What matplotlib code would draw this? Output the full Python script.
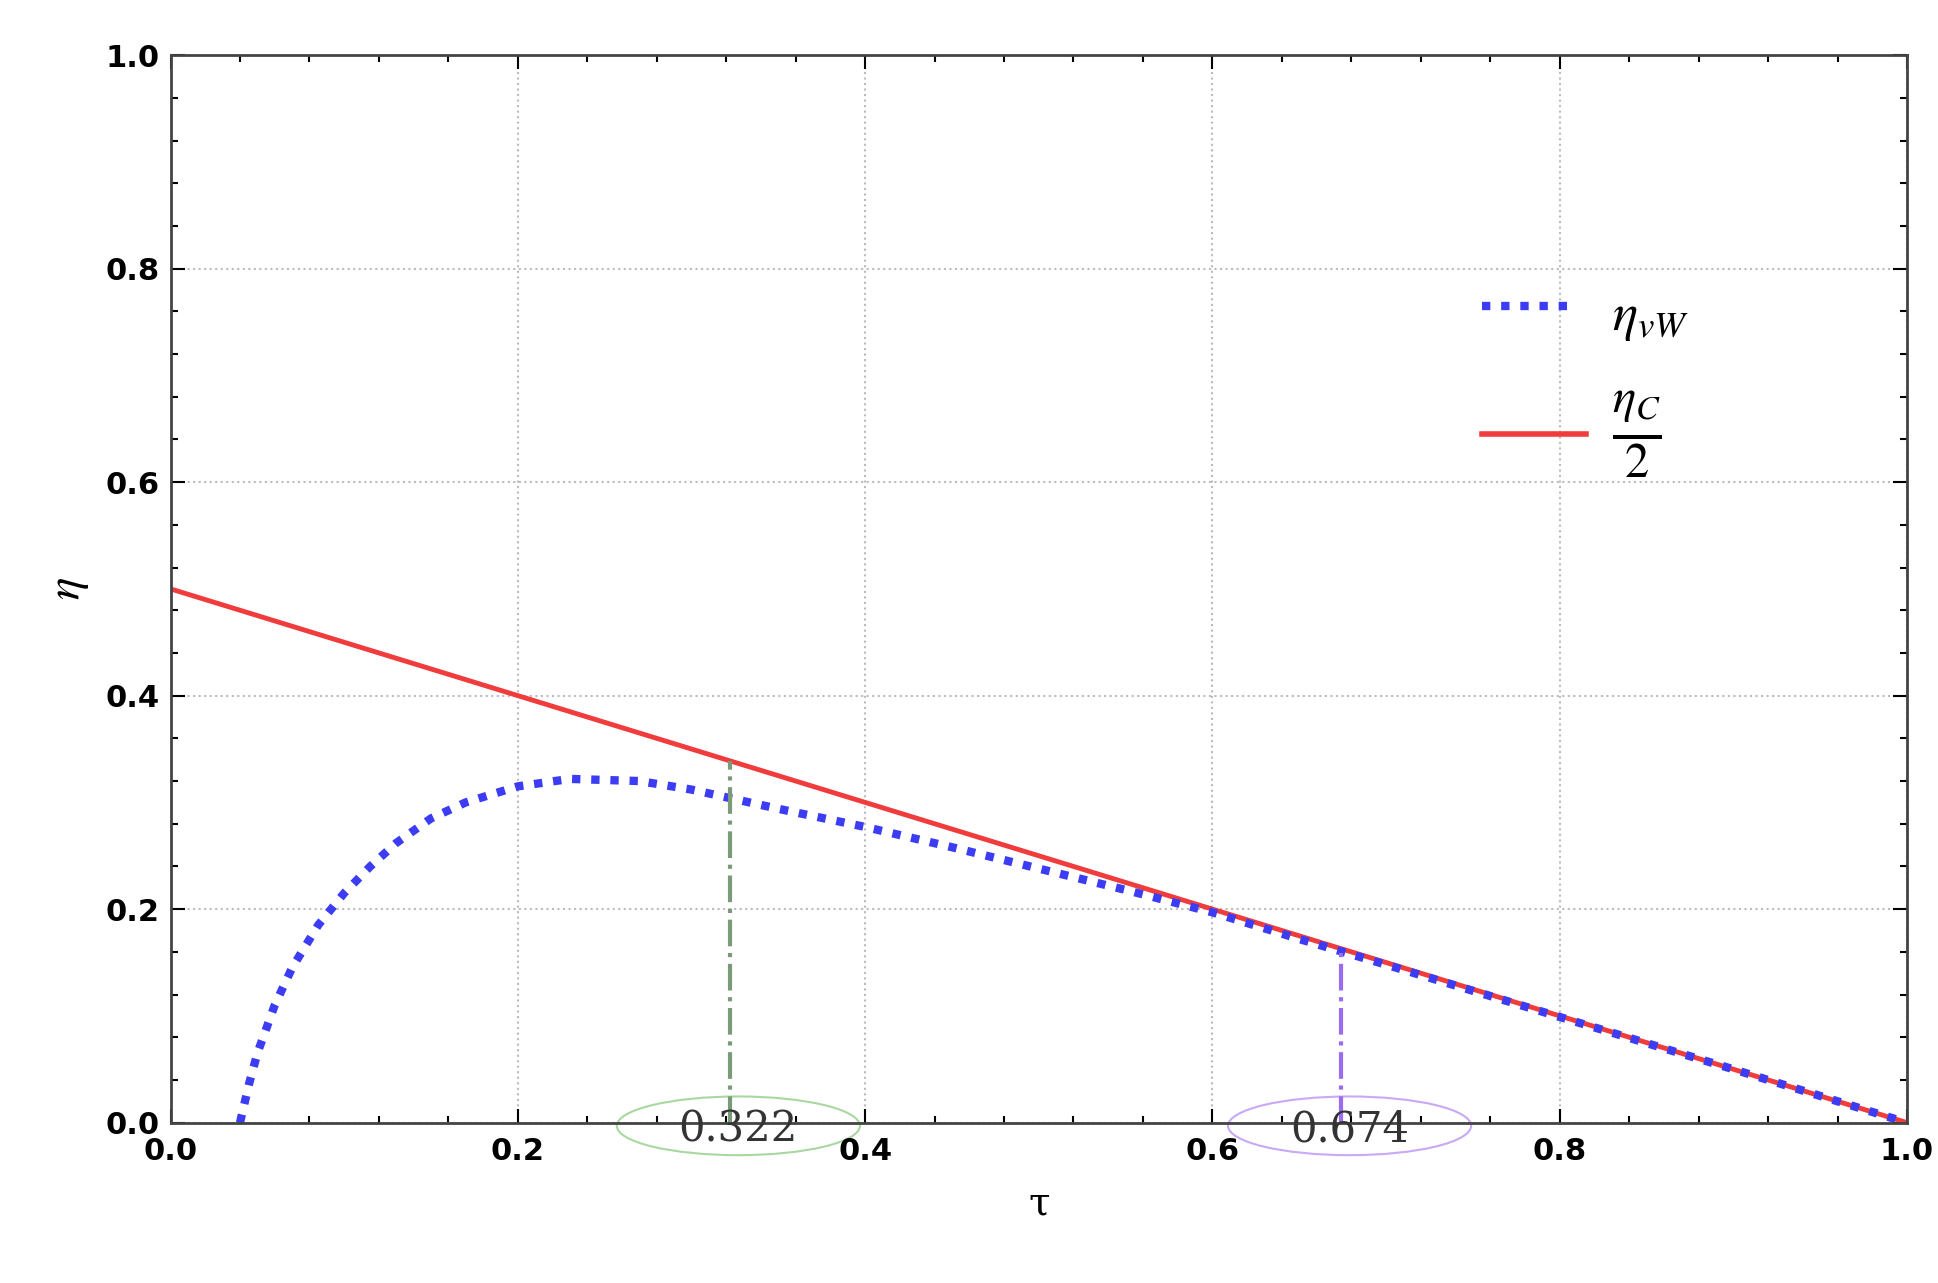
import matplotlib
matplotlib.use("Agg")
import matplotlib.pyplot as plt
from matplotlib.patches import Ellipse
from matplotlib.ticker import MultipleLocator, FormatStrFormatter

plt.rcParams["mathtext.fontset"] = "stix"

tau_vw = [0.04, 0.045, 0.05, 0.06, 0.07, 0.085, 0.1, 0.115, 0.13, 0.15, 0.17, 0.2, 0.23, 0.27, 0.3, 0.35, 0.4, 0.45, 0.5, 0.55, 0.6, 0.65, 0.7, 0.8, 0.9, 1.0]
eta_vw = [0.0, 0.035, 0.065, 0.11, 0.145, 0.185, 0.215, 0.24, 0.262, 0.285, 0.3, 0.315, 0.322, 0.32, 0.312, 0.294, 0.277, 0.258, 0.238, 0.218, 0.197, 0.172, 0.148, 0.099, 0.05, 0.0]
tau_c = [0.0, 1.0]
eta_c = [0.5, 0.0]
marks_x = [0.322, 0.674]
marks_y = [0.339, 0.163]
marks_lbl = ["0.322", "0.674"]
marks_col = ["#7a9a7a", "#9b6cf0"]
ell_col = ["#a8d8a0", "#c9a8f5"]

fig = plt.figure(figsize=(19.38, 12.83), dpi=100)
ax = fig.add_axes([0.088, 0.125, 0.896, 0.832])
ax.plot(tau_c, eta_c, color="#f03c3c", lw=3.5)
ax.plot(tau_vw, eta_vw, color="#3c3cf5", lw=6, ls=(0, (1, 1.3)))
for x, y, c, lbl, ec in zip(marks_x, marks_y, marks_col, marks_lbl, ell_col):
    ax.plot([x, x], [0, y], color=c, lw=3, ls="-.")
    ax.add_patch(Ellipse((x + 0.005, -0.003), 0.14, 0.055, fill=False, ec=ec, lw=1.5, clip_on=False))
    ax.text(x + 0.005, -0.006, lbl, ha="center", va="center", fontsize=30, family="DejaVu Serif", color="#333333", clip_on=False)

ax.set_xlim(0, 1); ax.set_ylim(0, 1)
ax.xaxis.set_major_locator(MultipleLocator(0.2)); ax.yaxis.set_major_locator(MultipleLocator(0.2))
ax.xaxis.set_minor_locator(MultipleLocator(0.04)); ax.yaxis.set_minor_locator(MultipleLocator(0.04))
ax.xaxis.set_major_formatter(FormatStrFormatter("%.1f")); ax.yaxis.set_major_formatter(FormatStrFormatter("%.1f"))
ax.tick_params(which="both", direction="in", top=True, right=True, labelsize=22, width=1.5)
ax.tick_params(which="major", length=10)
ax.tick_params(which="minor", length=5)
ax.tick_params(axis="x", pad=10)
ax.tick_params(axis="y", pad=8)
for l in ax.get_xticklabels() + ax.get_yticklabels():
    l.set_fontweight("bold")
for s in ax.spines.values():
    s.set_linewidth(2); s.set_color("#444444")
ax.grid(True, ls=":", color="#bbbbbb", lw=1.5)
ax.set_xlabel("τ", fontsize=28, family="DejaVu Serif", labelpad=14)
ax.set_ylabel("$\\eta$", fontsize=34, labelpad=10)

ax.plot([0.755, 0.81], [0.765, 0.765], color="#3c3cf5", lw=6, ls=(0, (1, 1.3)))
ax.text(0.83, 0.755, "$\\eta_{vW}$", fontsize=38, va="center")
ax.plot([0.755, 0.815], [0.645, 0.645], color="#f03c3c", lw=4)
ax.text(0.83, 0.645, "$\\frac{\\eta_C}{2}$", fontsize=50, va="center")
fig.savefig("out.png", dpi=100)
